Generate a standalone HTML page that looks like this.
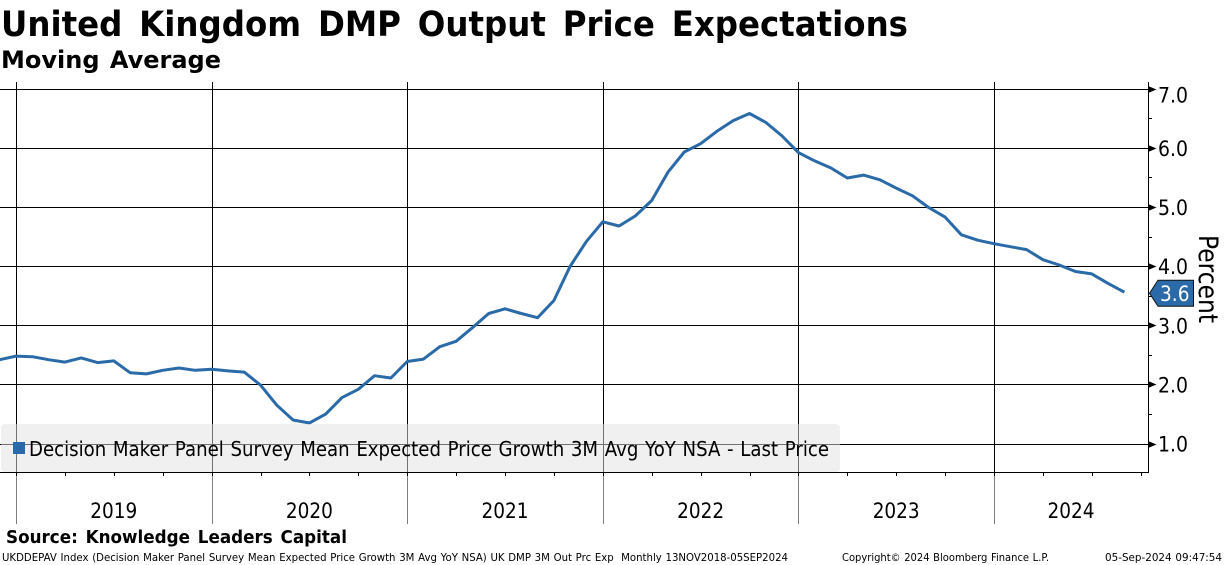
<!DOCTYPE html>
<html lang="en">
<head>
<meta charset="utf-8">
<title>United Kingdom DMP Output Price Expectations</title>
<style>
html,body{margin:0;padding:0;background:#fff;width:1224px;height:565px;overflow:hidden}
svg{display:block}
text{font-family:"DejaVu Sans","Liberation Sans",sans-serif;fill:#000}
.b{font-weight:bold}
</style>
</head>
<body>
<svg id="chart" xmlns="http://www.w3.org/2000/svg" width="1224" height="565" viewBox="0 0 1224 565">
<rect x="0" y="0" width="1224" height="565" fill="#fff"/>
<text class="b" x="1" y="36" font-size="35" word-spacing="6" textLength="907" lengthAdjust="spacingAndGlyphs">United Kingdom DMP Output Price Expectations</text>
<text class="b" x="1" y="68" font-size="24" word-spacing="2" textLength="220" lengthAdjust="spacingAndGlyphs">Moving Average</text>
<g id="grid"></g>
<g id="axes"></g>
<polyline id="series" fill="none" stroke="#2a6aa8" stroke-width="3" stroke-linejoin="round"></polyline>
<rect x="1" y="424" width="839" height="48" rx="4" fill="#e1e1e1" fill-opacity="0.5"/>
<rect x="13" y="442" width="12" height="12" fill="#2a6aa8"/>
<text x="29" y="456" font-size="20" word-spacing="1" textLength="800" lengthAdjust="spacingAndGlyphs">Decision Maker Panel Survey Mean Expected Price Growth 3M Avg YoY NSA - Last Price</text>
<text transform="translate(1199,235) rotate(90)" font-size="27" textLength="88" lengthAdjust="spacingAndGlyphs">Percent</text>
<g id="last-label"></g>
<text class="b" x="6" y="543" font-size="17.5" word-spacing="2" textLength="341" lengthAdjust="spacingAndGlyphs">Source: Knowledge Leaders Capital</text>
<text x="2" y="561" font-size="10.5" word-spacing="0.5" textLength="786" lengthAdjust="spacingAndGlyphs" xml:space="preserve">UKDDEPAV Index (Decision Maker Panel Survey Mean Expected Price Growth 3M Avg YoY NSA) UK DMP 3M Out Prc Exp  Monthly 13NOV2018-05SEP2024</text>
<text x="842" y="561" font-size="10.5" word-spacing="0.5" textLength="207" lengthAdjust="spacingAndGlyphs">Copyright© 2024 Bloomberg Finance L.P.</text>
<text x="1105" y="561" font-size="10.5" word-spacing="0.5" textLength="117" lengthAdjust="spacingAndGlyphs">05-Sep-2024 09:47:54</text>
</svg>
<script>
const months = [
'Dec18',
'Jan19','Feb19','Mar19','Apr19','May19','Jun19','Jul19','Aug19','Sep19','Oct19','Nov19','Dec19',
'Jan20','Feb20','Mar20','Apr20','May20','Jun20','Jul20','Aug20','Sep20','Oct20','Nov20','Dec20',
'Jan21','Feb21','Mar21','Apr21','May21','Jun21','Jul21','Aug21','Sep21','Oct21','Nov21','Dec21',
'Jan22','Feb22','Mar22','Apr22','May22','Jun22','Jul22','Aug22','Sep22','Oct22','Nov22','Dec22',
'Jan23','Feb23','Mar23','Apr23','May23','Jun23','Jul23','Aug23','Sep23','Oct23','Nov23','Dec23',
'Jan24','Feb24','Mar24','Apr24','May24','Jun24','Jul24','Aug24','Sep24'];
const seriesValues = [
2.43,
2.49,2.48,2.43,2.39,2.46,2.38,2.41,2.21,2.19,2.25,2.29,2.25,
2.27,2.24,2.22,2.00,1.66,1.41,1.36,1.51,1.79,1.93,2.16,2.12,
2.40,2.44,2.65,2.74,2.97,3.21,3.29,3.21,3.14,3.43,4.01,4.43,
4.76,4.69,4.86,5.12,5.60,5.94,6.08,6.29,6.47,6.59,6.44,6.21,
5.93,5.79,5.67,5.50,5.55,5.47,5.33,5.20,5.00,4.84,4.54,4.45,
4.39,4.34,4.29,4.12,4.03,3.92,3.88,3.72,3.57];
const yearLabels = ['2019','2020','2021','2022','2023','2024'];
const yTicks = [1,2,3,4,5,6,7];

const NS = 'http://www.w3.org/2000/svg';
const plotLeft = 0, plotRight = 1148, plotTop = 82, plotBottom = 472, labelBottom = 524;
const xScale = i => 16 + (i - 1) * 16.3;
const yScale = v => 444.3 - (v - 1) * 59.17;
const px = v => Math.round(v) + 0.5;
const monthIndex = label => months.indexOf(label);

function make(tag, attrs, parent) {
  const el = document.createElementNS(NS, tag);
  for (const k in attrs) el.setAttribute(k, attrs[k]);
  parent.appendChild(el);
  return el;
}
const grid = document.getElementById('grid');
const axes = document.getElementById('axes');

// horizontal gridlines, tick arrows and labels
yTicks.forEach(v => {
  const y = px(yScale(v) - 0.7);
  const line = make('line', {x1: plotLeft, x2: plotRight, y1: y, y2: y, stroke: '#000', 'stroke-width': 1}, grid);
  
  
  const arrow = make('polygon', {points: `${plotRight},${y - 3.5} ${plotRight + 8.5},${y} ${plotRight},${y + 3.5}`, fill: '#000'}, axes);
  
  
  const label = make('text', {x: 1158, y: Math.max(yScale(v) + 7.3, 102.7), 'font-size': 21, textLength: 30, lengthAdjust: 'spacingAndGlyphs'}, axes);
  
  
  label.textContent = v.toFixed(1);
  if (v < yTicks[yTicks.length - 1]) {
    const my = px(yScale(v + 0.5) - 0.7);
    const minor = make('line', {x1: plotRight, x2: plotRight + 4, y1: my, y2: my, stroke: '#000', 'stroke-width': 1}, axes);
    
    
  }
});

// year separators and labels
yearLabels.forEach((year, n) => {
  const xStart = xScale(monthIndex('Jan' + year.slice(2)));
  const x = px(xStart);
  const v = make('line', {x1: x, x2: x, y1: plotTop, y2: plotBottom, stroke: '#000', 'stroke-width': 1}, grid);
  
  
  const s = make('line', {x1: x, x2: x, y1: plotBottom, y2: labelBottom, stroke: '#808080', 'stroke-width': 1}, axes);
  
  
  const nextIdx = n < yearLabels.length - 1 ? monthIndex('Jan' + yearLabels[n + 1].slice(2)) : null;
  const xEnd = nextIdx !== null ? xScale(nextIdx) : plotRight;
  const t = make('text', {x: (xStart + xEnd) / 2 - 47 / 2, y: 518, 'font-size': 21, textLength: 47, lengthAdjust: 'spacingAndGlyphs'}, axes);
  
  
  t.textContent = year;
});

// quarterly ticks under the axis
for (let i = monthIndex('Jan19'); xScale(i) < plotRight; i += 3) {
  const x = px(xScale(i));
  const tick = make('line', {x1: x, x2: x, y1: plotBottom, y2: plotBottom + 4, stroke: '#000', 'stroke-width': 1}, axes);
  
  
}

// axis lines
const bottomAxis = make('line', {x1: plotLeft, x2: plotRight + 0.5, y1: plotBottom + 0.5, y2: plotBottom + 0.5, stroke: '#000', 'stroke-width': 1}, axes);


const rightAxis = make('line', {x1: plotRight + 0.5, x2: plotRight + 0.5, y1: plotTop, y2: plotBottom + 1, stroke: '#000', 'stroke-width': 1}, axes);



// series
document.getElementById('series').setAttribute('points',
  seriesValues.map((v, i) => xScale(i).toFixed(1) + ',' + yScale(v).toFixed(1)).join(' '));

// last price tag
const last = seriesValues[seriesValues.length - 1];
const ly = yScale(last) + 1;
const tagGroup = document.getElementById('last-label');
const tag = make('polygon', {points: `1149.5,${ly} 1158,${ly - 13} 1193.5,${ly - 13} 1193.5,${ly + 13} 1158,${ly + 13}`, fill: '#2a6aa8', stroke: '#111', 'stroke-width': 1}, tagGroup);


const tagText = make('text', {x: 1160, y: ly + 8, 'font-size': 21, textLength: 29.5, lengthAdjust: 'spacingAndGlyphs', style: 'fill:#fff'}, tagGroup);


tagText.textContent = last.toFixed(1);
</script>
</body>
</html>
